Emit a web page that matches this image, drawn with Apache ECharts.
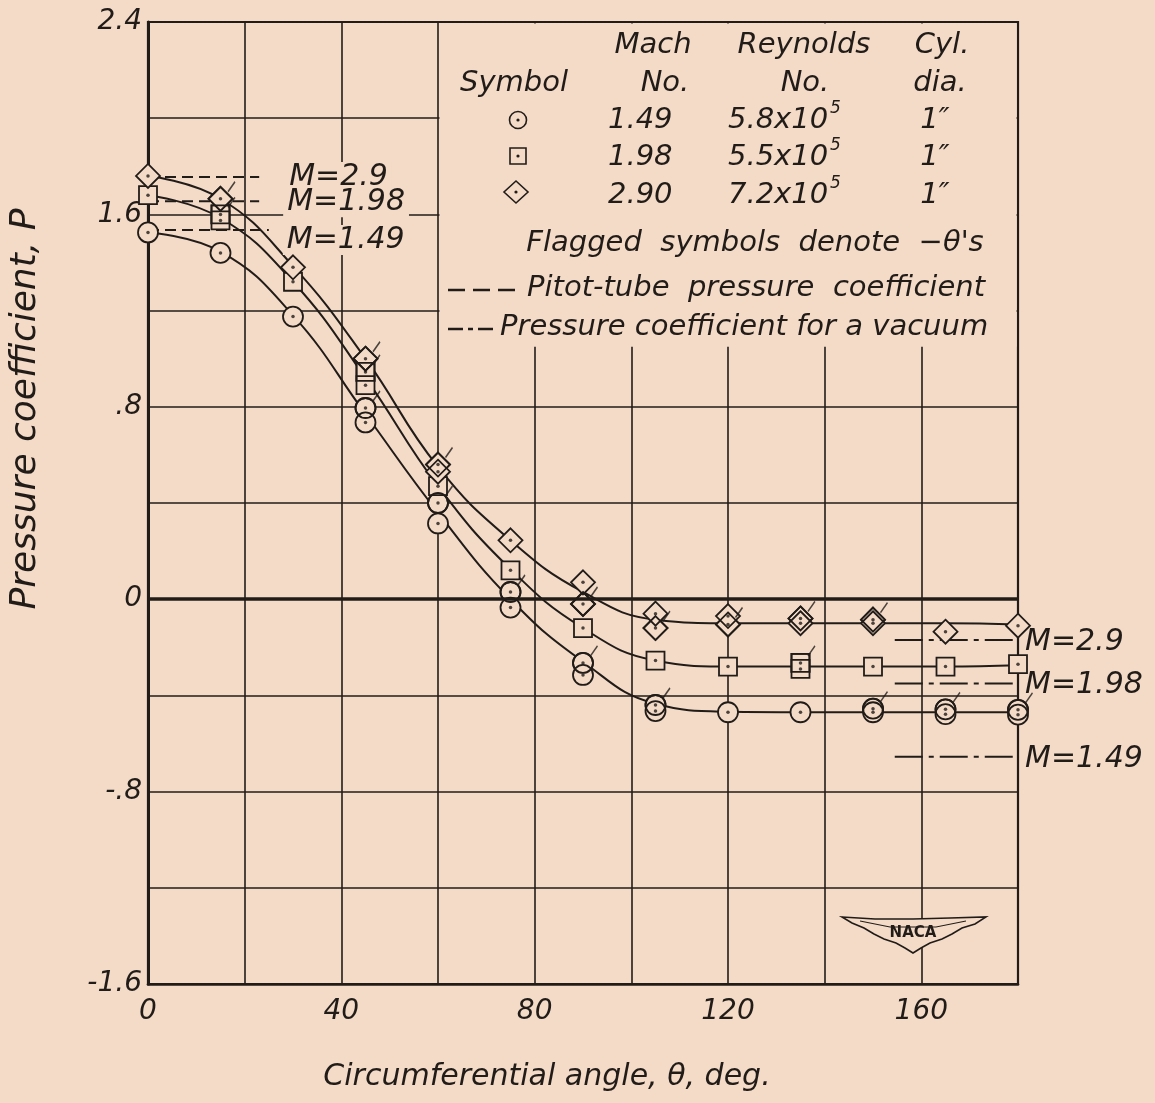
<!DOCTYPE html>
<html><head><meta charset="utf-8">
<script src="https://cdn.jsdelivr.net/npm/echarts@6/dist/echarts.min.js"></script>
<style>html,body{margin:0;padding:0;background:#f3dbc7}#c{width:1155px;height:1103px}</style>
</head><body><div id="c"></div>
<script>
// ---------------- data ----------------
const xLabelValues = [0, 40, 80, 120, 160];
const yLabelValues = [-1.6, -0.8, 0, 0.8, 1.6, 2.4];
const yLabelTexts = ['-1.6', '-.8', '0', '.8', '1.6', '2.4'];

// faired curves
const thetaCurve = [0, 15, 30, 45, 60, 75, 90, 105, 120, 135, 150, 165, 180];
const curveM149 = [1.525, 1.445, 1.18, 0.77, 0.36, 0.0, -0.26, -0.435, -0.468, -0.47, -0.47, -0.47, -0.47];
const curveM198 = [1.68, 1.585, 1.32, 0.92, 0.47, 0.125, -0.12, -0.255, -0.28, -0.28, -0.28, -0.28, -0.275];
const curveM290 = [1.76, 1.665, 1.385, 1.0, 0.55, 0.245, 0.03, -0.085, -0.1, -0.1, -0.1, -0.1, -0.105];

// measured points (positive theta) and flagged points (negative theta)
const circlePos = [[0,1.525],[15,1.44],[30,1.175],[45,0.735],[60,0.315],[75,-0.035],[90,-0.315],[105,-0.465],[120,-0.47],[135,-0.47],[150,-0.47],[165,-0.478],[180,-0.48]];
const circleNeg = [[45,0.795],[60,0.40],[75,0.03],[90,-0.265],[105,-0.44],[150,-0.455],[165,-0.458],[180,-0.46]];
const squarePos = [[0,1.68],[15,1.575],[30,1.32],[45,0.89],[60,0.47],[75,0.12],[90,-0.12],[105,-0.255],[120,-0.28],[135,-0.29],[150,-0.28],[165,-0.28],[180,-0.27]];
const squareNeg = [[15,1.60],[45,0.945],[135,-0.265]];
const diamondPos = [[0,1.76],[30,1.38],[60,0.53],[75,0.245],[90,0.07],[105,-0.06],[120,-0.07],[135,-0.10],[150,-0.10],[165,-0.135],[180,-0.11]];
const diamondNeg = [[15,1.665],[45,1.0],[60,0.56],[90,-0.02],[105,-0.12],[120,-0.105],[135,-0.08],[150,-0.085]];

// reference levels
const refNames = ['M=2.9', 'M=1.98', 'M=1.49'];
const pitotCp = [1.755, 1.655, 1.535];
const pitotEndTheta = [23, 23, 25];
const vacuumCp = [-0.17, -0.35, -0.655];
const vacuumStartTheta = 154.5;
const vacuumEndTheta = 180;

// legend table
const legendMach = ['1.49', '1.98', '2.90'];
const legendReynolds = ['5.8x10', '5.5x10', '7.2x10'];
const legendDia = ['1\u2033', '1\u2033', '1\u2033'];

// ---------------- style ----------------
const INK = '#221c19';
const PAPER = '#f3dbc7';
const FONT = '"DejaVu Sans", sans-serif';
const pitotLabelDist = [26, 24, 14];
const pitotLabelDy = [0, 1, 10];

const chart = echarts.init(document.getElementById('c'), null, {renderer: 'canvas'});

function curve(ys) {
  return {type: 'line', data: thetaCurve.map((t, i) => [t, ys[i]]), smooth: 0.45, symbol: 'none',
    lineStyle: {color: INK, width: 2}, z: 2, silent: true, clip: false, animation: false};
}
function scatter(data, symbol, size, z, fill) {
  return {type: 'scatter', data, symbol, symbolSize: size, clip: false, silent: true, z, animation: false,
    itemStyle: {color: fill, borderColor: INK, borderWidth: 1.8, opacity: 1}};
}
const allPts = [].concat(circlePos, circleNeg, squarePos, squareNeg, diamondPos, diamondNeg);
const negPts = [].concat(circleNeg, squareNeg, diamondNeg);
const labelStyle = {color: INK, fontSize: 30, fontStyle: 'italic', fontFamily: FONT};

const series = [];
series.push(Object.assign(curve(curveM149), {
  markLine: {silent: true, symbol: 'none', label: {show: false}, animation: false,
    lineStyle: {color: INK, width: 3.5, type: 'solid'}, data: [{yAxis: 0}]}
}));
series.push(curve(curveM198));
series.push(curve(curveM290));
refNames.forEach((nm, i) => {
  series.push({type: 'line', data: [[0, pitotCp[i]], [pitotEndTheta[i], pitotCp[i]]], symbol: 'none',
    lineStyle: {color: INK, width: 2, type: [11, 6]}, z: 2, silent: true, clip: false, animation: false,
    endLabel: Object.assign({show: true, formatter: nm, distance: pitotLabelDist[i], offset: [0, pitotLabelDy[i]],
      backgroundColor: PAPER, padding: [0, 4, 0, 4]}, labelStyle)});
  series.push({type: 'line', data: [[vacuumStartTheta, vacuumCp[i]], [vacuumEndTheta, vacuumCp[i]]], symbol: 'none',
    lineStyle: {color: INK, width: 2, type: [28, 6, 5, 6]}, z: 2, silent: true, clip: false, animation: false,
    endLabel: Object.assign({show: true, formatter: nm, distance: 7, offset: [0, 2]}, labelStyle)});
});
// flagged symbols under, normal symbols over, flagged outlines on top
series.push(scatter(circleNeg, 'circle', 20, 3, PAPER));
series.push(scatter(squareNeg, 'rect', 18, 3, PAPER));
series.push(scatter(diamondNeg, 'diamond', 24, 3, PAPER));
series.push(scatter(circlePos, 'circle', 20, 4, PAPER));
series.push(scatter(squarePos, 'rect', 18, 4, PAPER));
series.push(scatter(diamondPos, 'diamond', 24, 4, PAPER));
series.push(scatter(circleNeg, 'circle', 20, 5, 'rgba(0,0,0,0)'));
series.push(scatter(squareNeg, 'rect', 18, 5, 'rgba(0,0,0,0)'));
series.push(scatter(diamondNeg, 'diamond', 24, 5, 'rgba(0,0,0,0)'));
series.push({type: 'scatter', data: negPts, symbol: 'path://M0,10L7,0', symbolSize: [7, 10], symbolOffset: [11, -12],
  clip: false, silent: true, z: 5, animation: false,
  itemStyle: {color: 'rgba(0,0,0,0)', borderColor: INK, borderWidth: 1.6}});
series.push({type: 'scatter', data: allPts, symbol: 'circle', symbolSize: 3.5, clip: false, silent: true, z: 6,
  animation: false, itemStyle: {color: INK}});

const axisFont = {color: INK, fontSize: 28, fontStyle: 'italic', fontFamily: FONT};
chart.setOption({
  backgroundColor: PAPER,
  animation: false,
  grid: {left: 148, right: 137, top: 22, bottom: 119, show: true, borderColor: INK, borderWidth: 2.2, backgroundColor: 'transparent'},
  xAxis: {type: 'value', min: 0, max: 180, interval: 20,
    name: 'Circumferential angle, \u03b8, deg.', nameLocation: 'middle', nameGap: 78,
    nameTextStyle: Object.assign({padding: [0, 72, 0, 0]}, axisFont, {fontSize: 30}),
    axisLine: {show: true, onZero: false, lineStyle: {color: INK, width: 2.6}}, axisTick: {show: false},
    splitLine: {show: true, lineStyle: {color: INK, width: 1.6}},
    axisLabel: Object.assign({margin: 14, formatter: v => xLabelValues.indexOf(v) >= 0 ? String(v) : ''}, axisFont)},
  yAxis: {type: 'value', min: -1.6, max: 2.4, interval: 0.4,
    name: 'Pressure coefficient, P', nameLocation: 'middle', nameGap: 104, nameRotate: 90,
    nameTextStyle: Object.assign({padding: [0, 0, 0, 188]}, axisFont, {fontSize: 36}),
    axisLine: {show: true, lineStyle: {color: INK, width: 3}}, axisTick: {show: false},
    splitLine: {show: true, lineStyle: {color: INK, width: 1.6}},
    axisLabel: Object.assign({margin: 6, formatter: v => {
      for (let i = 0; i < yLabelValues.length; i++) if (Math.abs(v - yLabelValues[i]) < 1e-6) return yLabelTexts[i];
      return '';
    }}, axisFont)},
  series
});

// ---------------- legend box & logo (own layer above the grid lines) ----------------
const px = (x, y) => chart.convertToPixel({gridIndex: 0}, [x, y]);
const a = px(60, 1.05), b = px(180, 2.4);
function txt(text, x, y, align, size, extra) {
  return {type: 'text', zlevel: 1, z: 10, silent: true, style: Object.assign({text, x, y, fill: INK,
    font: 'italic ' + (size || 29) + 'px ' + FONT, align: align || 'left', textAlign: align || 'left',
    verticalAlign: 'middle', textVerticalAlign: 'middle'}, extra || {})};
}
const g = [];
g.push({type: 'rect', zlevel: 1, z: 1, silent: true, shape: {x: a[0] + 1.5, y: b[1] + 1.5, width: b[0] - a[0] - 3, height: a[1] - b[1] - 1.5},
  style: {fill: PAPER}});
g.push(txt('Mach', 653, 45, 'center'));
g.push(txt('Reynolds', 804, 45, 'center'));
g.push(txt('Cyl.', 942, 45, 'center'));
g.push(txt('Symbol', 514, 83, 'center'));
g.push(txt('No.', 665, 83, 'center'));
g.push(txt('No.', 805, 83, 'center'));
g.push(txt('dia.', 940, 83, 'center'));
const rowY = [120, 157, 195];
for (let i = 0; i < 3; i++) {
  g.push(txt(legendMach[i], 608, rowY[i], 'left'));
  g.push(txt(legendReynolds[i], 728, rowY[i], 'left'));
  g.push(txt('5', 830, rowY[i] - 11, 'left', 17));
  g.push(txt(legendDia[i], 935, rowY[i], 'center'));
}
g.push({type: 'circle', zlevel: 1, z: 10, silent: true, shape: {cx: 518, cy: 120, r: 8.5}, style: {fill: PAPER, stroke: INK, lineWidth: 1.6}});
g.push({type: 'rect', zlevel: 1, z: 10, silent: true, shape: {x: 510, y: 148, width: 16, height: 16}, style: {fill: PAPER, stroke: INK, lineWidth: 1.6}});
g.push({type: 'polygon', zlevel: 1, z: 10, silent: true, shape: {points: [[516, 181], [528, 192], [516, 203], [504, 192]]}, style: {fill: PAPER, stroke: INK, lineWidth: 1.6}});
[[518, 120], [518, 156], [516, 192]].forEach(c => g.push({type: 'circle', zlevel: 1, z: 11, silent: true, shape: {cx: c[0], cy: c[1], r: 1.6}, style: {fill: INK}}));
g.push(txt('Flagged  symbols  denote  \u2212\u03b8\'s', 755, 243, 'center'));
g.push({type: 'line', zlevel: 1, z: 10, silent: true, shape: {x1: 448, y1: 290, x2: 515, y2: 290}, style: {stroke: INK, lineWidth: 2.4, lineDash: [17, 8]}});
g.push(txt('Pitot-tube  pressure  coefficient', 527, 288, 'left'));
g.push({type: 'line', zlevel: 1, z: 10, silent: true, shape: {x1: 448, y1: 329, x2: 497, y2: 329}, style: {stroke: INK, lineWidth: 2.4, lineDash: [15, 5, 5, 5]}});
g.push(txt('Pressure coefficient for a vacuum', 500, 327, 'left'));
// NACA emblem
g.push({type: 'polygon', zlevel: 1, z: 10, silent: true, shape: {points: [[842, 917], [875, 919], [913, 919], [950, 918], [986, 917], [975, 924], [962, 928], [952, 934], [942, 939], [930, 943], [921, 948], [913, 953], [905, 948], [896, 943], [884, 939], [874, 934], [864, 928], [852, 923]]},
  style: {fill: PAPER, stroke: INK, lineWidth: 1.6}});
g.push({type: 'polyline', zlevel: 1, z: 11, silent: true, shape: {points: [[860, 921], [890, 927], [913, 927], [936, 927], [966, 921]]}, style: {stroke: INK, lineWidth: 1.1, fill: null}});
g.push({type: 'text', zlevel: 1, z: 12, silent: true, style: {text: 'NACA', x: 913, y: 933, fill: INK, font: 'bold 15px ' + FONT, align: 'center', textAlign: 'center', verticalAlign: 'middle', textVerticalAlign: 'middle'}});
chart.setOption({graphic: {elements: g}});
</script>
</body></html>
